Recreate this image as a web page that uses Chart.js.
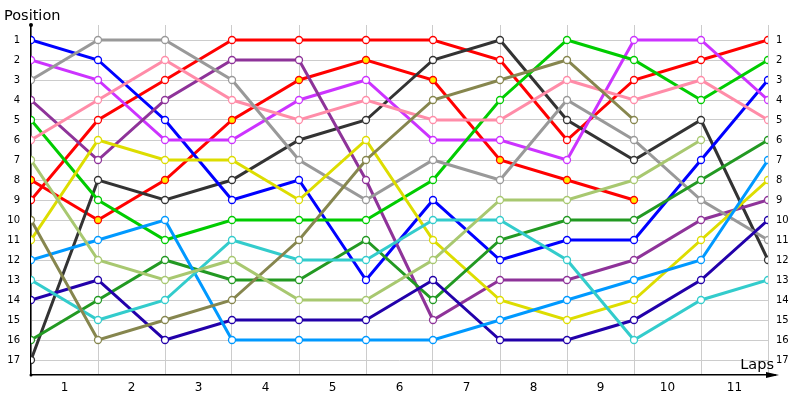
<!DOCTYPE html>
<html>
<head>
<meta charset="utf-8">
<script src="https://cdn.jsdelivr.net/npm/chart.js@4"></script>
<style>
  html, body { margin: 0; padding: 0; background: #fff; }
  #wrap { width: 800px; height: 400px; }
</style>
</head>
<body>
<div id="wrap"><canvas id="chart"></canvas></div>
<script>
// x = lap boundary (0 = start), y = position
const lapMarks = [0, 1, 2, 3, 4, 5, 6, 7, 8, 9, 10, 11];
const lapLabels = ['1', '2', '3', '4', '5', '6', '7', '8', '9', '10', '11'];
const positionTicks = [1, 2, 3, 4, 5, 6, 7, 8, 9, 10, 11, 12, 13, 14, 15, 16, 17];

const posBlue        = [1, 2, 5, 9, 8, 13, 9, 12, 11, 11, 7, 3];
const posViolet      = [2, 3, 6, 6, 4, 3, 6, 6, 7, 1, 1, 4];
const posGray        = [3, 1, 1, 3, 7, 9, 7, 8, 4, 6, 9, 11];
const posPurple      = [4, 7, 4, 2, 2, 8, 15, 13, 13, 12, 10, 9];
const posGreen       = [5, 9, 11, 10, 10, 10, 8, 4, 1, 2, 4, 2];
const posPink        = [6, 4, 2, 4, 5, 4, 5, 5, 3, 4, 3, 5];
const posLightGreen  = [7, 12, 13, 12, 14, 14, 12, 9, 9, 8, 6, null];
const posRedYellow   = [8, 10, 8, 5, 3, 2, 3, 7, 8, 9, null, null];
const posRed         = [9, 5, 3, 1, 1, 1, 1, 2, 6, 3, 2, 1];
const posOlive       = [10, 16, 15, 14, 11, 7, 4, 3, 2, 5, null, null];
const posYellow      = [11, 6, 7, 7, 9, 6, 11, 14, 15, 14, 11, 8];
const posLightBlue   = [12, 11, 10, 16, 16, 16, 16, 15, 14, 13, 12, 7];
const posCyan        = [13, 15, 14, 11, 12, 12, 10, 10, 12, 16, 14, 13];
const posIndigo      = [14, 13, 16, 15, 15, 15, 13, 16, 16, 15, 13, 10];
const posForestGreen = [16, 14, 12, 13, 13, 11, 14, 11, 10, 10, 8, 6];
const posDarkGray    = [17, 8, 9, 8, 6, 5, 2, 1, 5, 7, 5, 12];

const series = [
  { data: posLightGreen,  color: '#a8c870' },
  { data: posOlive,       color: '#86864e' },
  { data: posCyan,        color: '#33cccc' },
  { data: posLightBlue,   color: '#0099ff' },
  { data: posIndigo,      color: '#2200aa' },
  { data: posForestGreen, color: '#229922' },
  { data: posYellow,      color: '#dddd00' },
  { data: posGray,        color: '#999999' },
  { data: posPink,        color: '#ff8ca8' },
  { data: posGreen,       color: '#00cc00' },
  { data: posPurple,      color: '#8e3399' },
  { data: posViolet,      color: '#cc33ff' },
  { data: posBlue,        color: '#0000ff' },
  { data: posDarkGray,    color: '#333333' },
  { data: posRedYellow,   color: '#ff0000', fill: '#ffee00' },
  { data: posRed,         color: '#ff0000' },
];

const datasets = series.map(s => ({
  data: s.data.map((p, i) => ({ x: lapMarks[i], y: p })),
  borderColor: s.color,
  borderWidth: 3,
  pointRadius: 3.5,
  pointBorderWidth: 1.3,
  pointBackgroundColor: s.fill || '#ffffff',
  pointBorderColor: s.color,
  spanGaps: false,
  tension: 0,
}));

// axis arrows and axis titles
const decorations = {
  id: 'decorations',
  afterDraw(chart) {
    const { ctx, chartArea: a } = chart;
    ctx.save();
    ctx.strokeStyle = '#000';
    ctx.fillStyle = '#000';
    ctx.lineWidth = 1.5;
    ctx.beginPath();
    ctx.moveTo(a.right, a.bottom);
    ctx.lineTo(a.right + 8, a.bottom);
    ctx.stroke();
    ctx.beginPath();
    ctx.moveTo(a.right - 2, a.bottom - 3);
    ctx.lineTo(a.right + 11, a.bottom);
    ctx.lineTo(a.right - 2, a.bottom + 3);
    ctx.closePath();
    ctx.fill();
    ctx.beginPath();
    ctx.arc(a.left, a.top, 2, 0, Math.PI * 2);
    ctx.arc(a.left, a.bottom, 1.5, 0, Math.PI * 2);
    ctx.fill();

    ctx.font = '14.5px "DejaVu Sans"';
    ctx.textBaseline = 'alphabetic';
    ctx.textAlign = 'left';
    ctx.fillText('Position', 4, 20);
    ctx.textAlign = 'right';
    ctx.fillText('Laps', 774, 369);
    ctx.restore();
  }
};

const tickFont = { family: 'DejaVu Sans', size: 10 };

new Chart(document.getElementById('chart'), {
  type: 'line',
  data: { datasets },
  plugins: [decorations],
  options: {
    responsive: true,
    maintainAspectRatio: false,
    animation: false,
    layout: { padding: { top: 25, left: 0, right: 0, bottom: 0 } },
    plugins: { legend: { display: false }, tooltip: { enabled: false } },
    scales: {
      xGrid: {
        type: 'linear',
        position: 'bottom',
        min: 0,
        max: 11,
        afterBuildTicks: s => { s.ticks = lapMarks.map(v => ({ value: v })); },
        afterFit: s => { s.height = 0; },
        ticks: { display: false },
        grid: { color: '#cccccc', lineWidth: 1, drawTicks: false },
        border: { display: false },
      },
      x: {
        type: 'linear',
        position: 'bottom',
        min: 0,
        max: 11,
        afterBuildTicks: s => { s.ticks = lapLabels.map((l, i) => ({ value: i + 0.5 })); },
        afterFit: s => { s.height = 25; },
        ticks: {
          color: '#000',
          font: { family: 'DejaVu Sans', size: 12 },
          padding: 6,
          maxRotation: 0,
          autoSkip: false,
          callback: (v, i) => lapLabels[i],
        },
        grid: { display: false, drawTicks: false },
        border: { display: true, color: '#000', width: 1.5 },
      },
      y: {
        type: 'linear',
        position: 'left',
        reverse: true,
        min: 0.25,
        max: 17.75,
        afterBuildTicks: s => { s.ticks = positionTicks.map(v => ({ value: v })); },
        afterFit: s => { s.width = 31; },
        ticks: { color: '#000', font: tickFont, padding: 11, autoSkip: false },
        grid: { color: '#cccccc', lineWidth: 1, drawTicks: false },
        border: { display: true, color: '#000', width: 1.5 },
      },
      yRight: {
        type: 'linear',
        position: 'right',
        reverse: true,
        min: 0.25,
        max: 17.75,
        afterBuildTicks: s => { s.ticks = positionTicks.map(v => ({ value: v })); },
        afterFit: s => { s.width = 32; },
        ticks: { color: '#000', font: tickFont, padding: 8, autoSkip: false },
        grid: { display: false, drawTicks: false },
        border: { display: false },
      },
    },
  },
});
</script>
</body>
</html>
